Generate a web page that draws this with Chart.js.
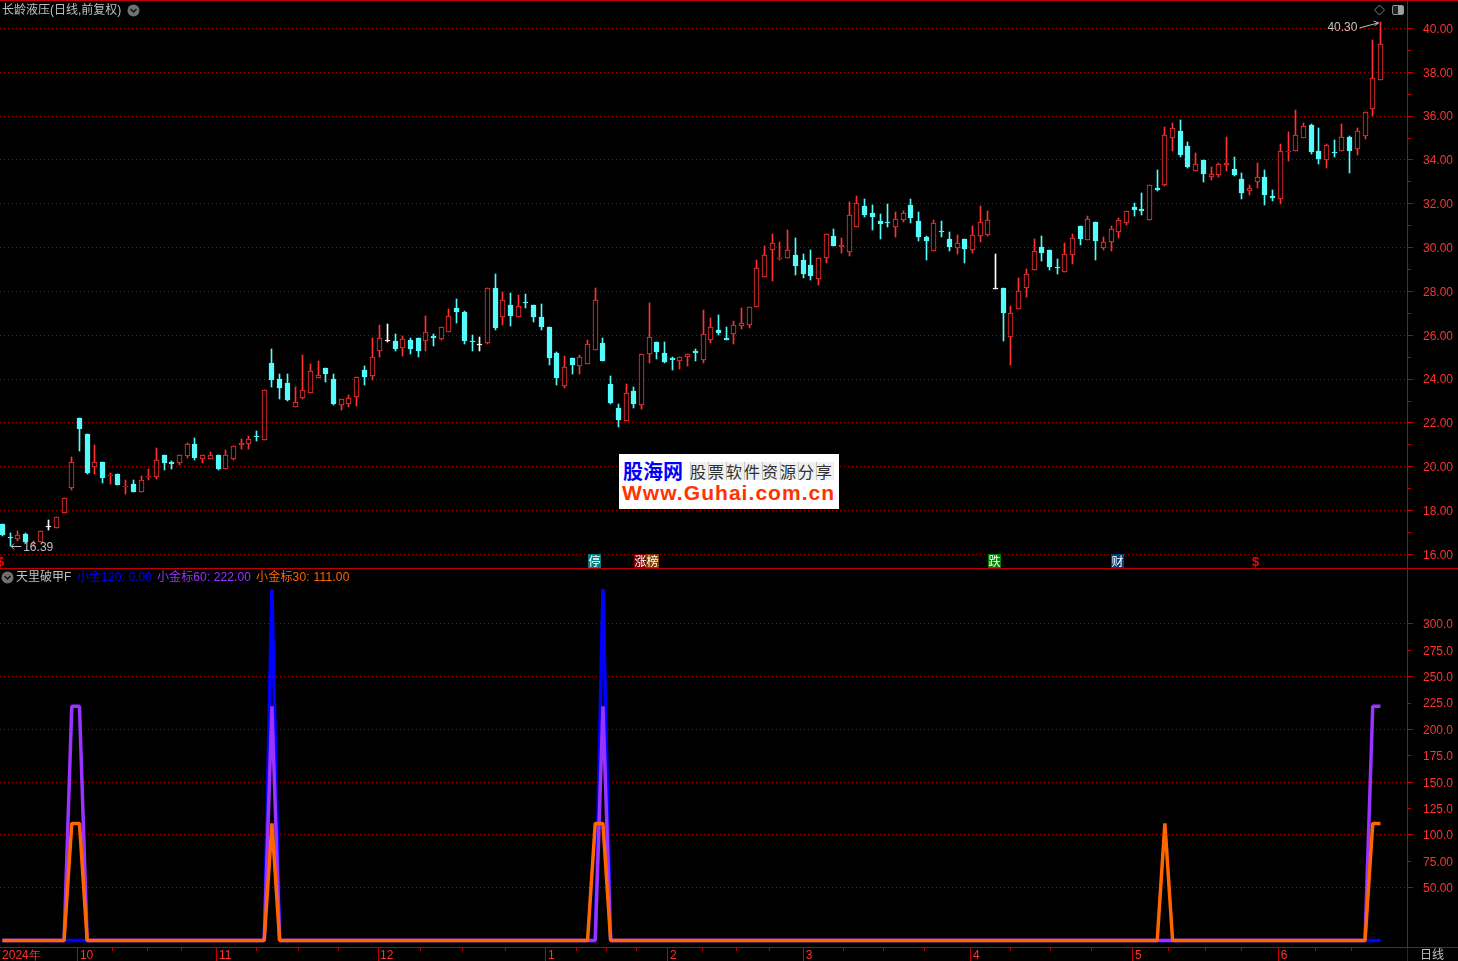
<!DOCTYPE html>
<html>
<head>
<meta charset="utf-8">
<script src="https://cdn.jsdelivr.net/npm/chart.js@4"></script>
<style>
html, body { margin: 0; padding: 0; background: #000; width: 1458px; height: 961px; overflow: hidden; }
canvas { position: absolute; left: 0; }
.t { position: absolute; white-space: nowrap; font: 12px/14px "Liberation Sans", "Noto Sans CJK SC", sans-serif; }
.line { position: absolute; background: #c00000; }
.tag { position: absolute; top: 554px; width: 13px; height: 14px; color: #fff; text-align: center; font: 12px/14px "Noto Sans CJK SC", sans-serif; }
</style>
</head>
<body>
<canvas id="priceChart" width="1458" height="568" style="top:0"></canvas>
<canvas id="indexChart" width="1458" height="392" style="top:569px"></canvas>

<div class="line" style="left:0;top:0;width:1458px;height:1px"></div>
<div class="line" style="left:0;top:568px;width:1458px;height:1px"></div>
<div class="line" style="left:1407px;top:947px;width:51px;height:1px"></div>
<div class="line" style="left:1407px;top:948px;width:1px;height:13px;background:#800000"></div>

<div class="t" style="left:2px;top:3px;color:#c0c0c0">长龄液压(日线,前复权)</div>
<svg style="position:absolute;left:127px;top:4px" width="13" height="13"><circle cx="6.5" cy="6.5" r="6" fill="#707070"/><path d="M3.5 5 L6.5 8 L9.5 5" stroke="#111" stroke-width="1.5" fill="none"/></svg>
<svg style="position:absolute;left:1373px;top:4px" width="32" height="13"><path d="M6.5 1 L11.5 6 L6.5 11 L1.5 6 Z" stroke="#808080" fill="none"/><rect x="19.5" y="1.5" width="11" height="9" rx="1.5" stroke="#909090" fill="#202020"/><rect x="25" y="2" width="5" height="8" fill="#a0a0a0"/></svg>

<div class="tag" style="left:588px;background:#008080">停</div>
<div class="tag" style="left:634px;background:#800000">涨</div>
<div class="tag" style="left:646px;background:#804000">榜</div>
<div class="tag" style="left:988px;background:#008000">跌</div>
<div class="tag" style="left:1111px;background:#004080">财</div>
<div class="t" style="left:1252px;top:555px;color:#ff0000;font-weight:bold;font-size:13px">$</div>
<div class="t" style="left:-3px;top:555px;color:#ff0000;font-weight:bold;font-size:13px">$</div>

<div style="position:absolute;left:619px;top:454px;width:220px;height:55px;background:#fff"></div>
<div class="t" style="left:623px;top:459px;color:#0000ff;font:bold 20px/24px 'Noto Sans CJK SC'">股海网</div>
<div class="t" style="left:690px;top:462px;height:18px;width:144px;color:#303030;font:16px/18px 'Noto Sans CJK SC';letter-spacing:2px;background:repeating-linear-gradient(90deg,#c8c8c8 0 1px,#f0f0f0 1px 18px)">股票软件资源分享</div>
<div class="t" style="left:622px;top:481px;color:#ff3300;font:bold 21px/24px 'Liberation Sans';letter-spacing:1.05px">Www.Guhai.com.cn</div>

<svg style="position:absolute;left:1px;top:571px" width="13" height="13"><circle cx="6.5" cy="6.5" r="6" fill="#707070"/><path d="M3.5 5 L6.5 8 L9.5 5" stroke="#111" stroke-width="1.5" fill="none"/></svg>
<div class="t" style="left:16px;top:570px;color:#c0c0c0">天里破甲F</div>
<div class="t" style="left:77px;top:570px;color:#0000ff;letter-spacing:.1px">小金120: 0.00</div>
<div class="t" style="left:157px;top:570px;color:#9933ff;letter-spacing:.1px">小金标60: 222.00</div>
<div class="t" style="left:256px;top:570px;color:#ff6600;letter-spacing:.2px">小金标30: 111.00</div>
<div class="t" style="left:1420px;top:948px;color:#c0c0c0">日线</div>

<script>
const opens = [
  17.39,16.77,16.70,16.92,16.50,16.56,17.24,17.21,17.90,19.04,
  22.25,21.49,20.00,20.21,19.57,19.67,19.06,19.21,18.86,19.54,
  19.54,20.56,20.21,20.17,20.50,21.03,20.37,20.37,20.56,19.91,
  20.35,21.00,21.03,21.40,21.23,24.73,24.00,23.82,22.74,23.14,
  23.38,24.06,24.50,24.00,22.84,22.87,23.19,24.41,24.15,25.29,
  25.72,25.73,25.43,25.78,25.87,25.73,25.96,25.82,26.17,27.24,
  27.06,25.73,25.58,25.64,28.18,26.84,27.38,26.84,27.51,27.38,
  26.83,26.37,25.18,23.69,24.96,24.60,24.70,25.34,25.64,23.77,
  22.67,22.08,23.45,22.82,25.14,25.69,25.18,24.96,24.83,25.02,
  25.29,24.86,25.79,26.23,25.87,26.06,26.43,26.48,27.30,28.67,
  29.90,29.49,29.53,29.65,29.43,29.20,28.57,29.53,30.52,30.02,
  29.81,30.95,31.89,31.57,31.21,31.16,30.95,31.25,31.94,31.21,
  30.48,29.85,30.75,30.38,29.97,30.38,29.90,30.54,30.57,28.13,
  28.15,25.93,27.21,28.16,28.99,30.02,29.88,29.11,28.89,29.67,
  30.98,30.35,31.16,29.97,30.26,30.72,31.12,31.85,31.75,31.27,
  32.70,32.85,34.99,35.31,34.63,33.49,33.99,33.21,33.31,33.76,
  33.58,33.12,32.59,33.00,33.21,32.35,32.21,34.37,34.42,35.01,
  35.59,34.40,33.99,34.35,34.40,35.04,34.51,35.10,36.33,37.67
];
const highs = [
  17.39,16.97,17.06,16.97,16.62,17.09,17.56,17.73,18.60,20.44,
  22.25,21.49,20.99,20.21,19.70,19.67,19.39,19.39,19.57,19.89,
  20.85,20.56,20.26,20.52,21.07,21.31,20.56,20.67,20.56,20.76,
  20.93,21.26,21.39,21.63,23.49,25.37,24.23,24.23,23.64,25.10,
  24.69,24.82,24.50,24.23,23.11,23.27,24.12,24.59,25.87,26.46,
  26.51,26.05,25.96,25.87,25.87,26.87,26.05,26.40,27.18,27.65,
  27.10,26.00,25.91,28.18,28.79,27.97,27.92,27.83,27.88,27.38,
  27.42,26.37,25.23,25.05,24.96,25.09,25.78,28.15,25.87,24.13,
  22.85,23.77,23.63,25.17,27.47,25.69,25.69,25.00,25.03,25.17,
  25.37,27.14,26.78,26.92,26.37,26.64,27.24,27.27,29.43,30.07,
  30.61,30.25,30.79,30.43,29.70,29.88,29.55,30.64,30.84,30.43,
  32.07,32.35,32.21,31.94,31.52,31.98,31.62,31.66,32.21,31.62,
  30.52,31.25,31.21,30.70,30.57,30.38,31.00,31.89,31.66,29.70,
  28.15,27.33,28.60,29.02,30.38,30.52,29.88,29.47,30.20,30.61,
  30.98,31.43,31.16,30.48,30.98,31.34,31.69,32.03,32.48,32.88,
  33.53,35.50,35.68,35.81,34.81,34.31,33.99,33.67,33.85,35.04,
  34.13,33.40,32.85,33.85,33.53,32.62,34.72,35.27,36.27,35.68,
  35.63,35.45,34.75,34.90,35.63,35.08,35.45,36.21,39.47,40.30
];
const lows = [
  16.84,16.39,16.60,16.53,16.42,16.56,17.11,17.21,17.90,18.93,
  20.73,19.68,19.66,19.27,19.22,19.16,18.77,18.84,18.86,19.39,
  19.45,19.85,19.89,20.09,20.40,20.30,20.17,20.37,19.85,19.91,
  20.30,20.81,20.81,21.17,21.23,23.64,23.09,23.00,22.74,23.09,
  23.38,24.06,23.87,22.83,22.58,22.72,22.76,23.72,23.95,25.00,
  25.69,25.27,25.05,25.14,25.00,25.27,25.50,25.78,26.14,26.55,
  25.59,25.27,25.27,25.59,26.23,26.46,26.42,26.84,27.24,26.60,
  26.23,24.64,23.72,23.59,24.22,24.22,24.70,25.34,24.82,22.85,
  21.80,22.08,22.67,22.63,24.73,24.91,24.73,24.41,24.45,24.59,
  24.82,24.73,25.64,26.00,25.78,25.59,26.28,26.32,27.30,28.67,
  28.47,29.43,29.53,28.74,28.60,28.51,28.29,29.29,30.06,29.75,
  29.61,30.95,31.39,30.79,30.38,30.93,30.48,31.16,31.11,30.29,
  29.43,29.85,30.48,29.84,29.70,29.29,29.75,30.25,30.52,28.13,
  25.73,24.64,27.21,27.74,28.99,29.38,28.99,28.79,28.89,29.24,
  30.11,30.35,29.43,29.88,29.84,30.43,31.02,31.43,31.48,31.27,
  32.57,32.82,34.40,34.13,33.62,33.49,32.99,33.08,33.21,33.49,
  33.26,32.21,32.39,32.71,31.94,32.12,32.01,33.94,34.42,35.01,
  34.26,33.81,33.62,34.13,34.40,33.40,34.22,34.95,36.00,37.67
];
const closes = [
  16.88,16.73,16.88,16.56,16.54,17.09,17.24,17.73,18.60,20.20,
  21.73,19.71,20.20,19.48,19.62,19.16,19.12,18.87,19.38,19.57,
  20.33,20.17,20.14,20.52,21.02,20.40,20.56,20.56,19.89,20.52,
  20.93,21.08,21.29,21.35,23.49,23.96,23.59,23.04,22.94,23.49,
  24.35,24.17,24.23,22.86,23.11,23.16,24.12,24.09,24.99,25.90,
  25.72,25.37,25.85,25.37,25.27,26.13,25.87,26.40,26.86,27.06,
  25.73,25.70,25.58,28.18,26.32,27.59,26.87,27.36,27.47,26.83,
  26.37,24.96,24.04,24.57,24.64,25.03,25.62,27.59,24.82,22.90,
  22.12,23.39,22.85,25.17,25.94,25.23,24.77,24.86,25.03,25.17,
  25.18,26.08,26.40,26.10,25.78,26.49,26.58,27.27,29.09,29.68,
  30.19,29.55,29.91,29.15,28.79,28.70,29.55,30.64,30.06,30.11,
  31.51,32.06,31.48,31.39,31.07,31.11,31.33,31.60,31.34,30.48,
  30.29,31.14,30.70,30.02,30.19,29.93,30.60,31.19,31.28,28.13,
  27.01,27.04,28.04,28.82,29.87,29.75,29.12,29.06,29.69,30.42,
  30.39,31.33,30.29,30.28,30.83,31.28,31.69,31.71,31.66,32.88,
  32.64,35.12,35.48,34.22,33.67,33.81,33.35,33.35,33.81,33.85,
  33.31,32.48,32.70,33.24,32.39,32.26,34.39,34.43,35.16,35.53,
  34.35,34.04,34.70,34.31,35.07,34.40,35.34,36.21,37.76,39.27
];

const jin120 = [
  0,0,0,0,0,0,0,0,0,0,0,0,0,0,0,0,0,0,0,0,
  0,0,0,0,0,0,0,0,0,0,0,0,0,0,0,333,0,0,0,0,
  0,0,0,0,0,0,0,0,0,0,0,0,0,0,0,0,0,0,0,0,
  0,0,0,0,0,0,0,0,0,0,0,0,0,0,0,0,0,0,333,0,
  0,0,0,0,0,0,0,0,0,0,0,0,0,0,0,0,0,0,0,0,
  0,0,0,0,0,0,0,0,0,0,0,0,0,0,0,0,0,0,0,0,
  0,0,0,0,0,0,0,0,0,0,0,0,0,0,0,0,0,0,0,0,
  0,0,0,0,0,0,0,0,0,0,0,0,0,0,0,0,0,0,0,0,
  0,0,0,0,0,0,0,0,0,0,0,0,0,0,0,0,0,0,0,0
];
const jinBiao60 = [
  0,0,0,0,0,0,0,0,0,222,222,0,0,0,0,0,0,0,0,0,
  0,0,0,0,0,0,0,0,0,0,0,0,0,0,0,222,0,0,0,0,
  0,0,0,0,0,0,0,0,0,0,0,0,0,0,0,0,0,0,0,0,
  0,0,0,0,0,0,0,0,0,0,0,0,0,0,0,0,0,0,222,0,
  0,0,0,0,0,0,0,0,0,0,0,0,0,0,0,0,0,0,0,0,
  0,0,0,0,0,0,0,0,0,0,0,0,0,0,0,0,0,0,0,0,
  0,0,0,0,0,0,0,0,0,0,0,0,0,0,0,0,0,0,0,0,
  0,0,0,0,0,0,0,0,0,0,0,0,0,0,0,0,0,0,0,0,
  0,0,0,0,0,0,0,0,0,0,0,0,0,0,0,0,0,0,222,222
];
const jinBiao30 = [
  0,0,0,0,0,0,0,0,0,111,111,0,0,0,0,0,0,0,0,0,
  0,0,0,0,0,0,0,0,0,0,0,0,0,0,0,111,0,0,0,0,
  0,0,0,0,0,0,0,0,0,0,0,0,0,0,0,0,0,0,0,0,
  0,0,0,0,0,0,0,0,0,0,0,0,0,0,0,0,0,111,111,0,
  0,0,0,0,0,0,0,0,0,0,0,0,0,0,0,0,0,0,0,0,
  0,0,0,0,0,0,0,0,0,0,0,0,0,0,0,0,0,0,0,0,
  0,0,0,0,0,0,0,0,0,0,0,0,0,0,0,0,0,0,0,0,
  0,0,0,0,0,0,0,0,0,0,0,111,0,0,0,0,0,0,0,0,
  0,0,0,0,0,0,0,0,0,0,0,0,0,0,0,0,0,0,111,111
];

const priceTicks = [16,18,20,22,24,26,28,30,32,34,36,38,40];
const priceMinorTicks = [17,19,21,23,25,27,29,31,33,35,37,39];
const indexTicks = [50,100,150,200,250,300];
const indexTickLabels = ['50.00','100.0','150.0','200.0','250.0','300.0'];
const indexMinorTicks = [75,125,175,225,275];
const indexMinorLabels = ['75.00','125.0','175.0','225.0','275.0'];
const monthTicks = [-0.32,9.8,27.86,48.78,70.6,86.45,104.1,125.8,146.85,165.8];
const monthLabels = ['2024年','10','11','12','1','2','3','4','5','6'];
const weekTicks = [14.35,18.9,23.3,33.06,38.4,43.6,54.36,59.7,65.3,74.6,78.5,82.4,90.9,95.3,99.7,109.3,114.5,119.8,131,136.2,141.5,151.5,156.3,161,170.5,175.2];

const RED = '#ff3232', CYAN = '#54fcfc', FRAME = '#c00000', GRID = '#a80000';
const X_MIN = -0.325, X_MAX = 182.45;
const NUM_FONT = { family: 'Liberation Sans', size: 12 };

const candleColor = i => closes[i] > opens[i] ? RED : closes[i] < opens[i] ? CYAN : '#ffffff';
const isMinor = (list, v) => list.includes(v);
const noPadding = axis => {
  axis.paddingTop = axis.paddingBottom = axis.paddingLeft = axis.paddingRight = 0;
};

// snap bars to whole pixels so bodies look crisp like the original
const snapBars = {
  id: 'snapBars',
  afterDatasetsUpdate(chart) {
    chart.getSortedVisibleDatasetMetas().forEach(meta => {
      meta.data.forEach(el => {
        el.x = Math.floor(el.x) + 0.5;
        el.y = Math.round(el.y);
        el.base = Math.round(el.base);
        if (el.base === el.y) el.base = el.y + 1;
      });
    });
  }
};

// 40.30 / 16.39 notes with their little arrows
const extremeNotes = {
  id: 'extremeNotes',
  afterDatasetsDraw(chart) {
    const { ctx, scales } = chart;
    const hiX = scales.x.getPixelForValue(179), hiY = scales.y.getPixelForValue(40.30);
    const loX = scales.x.getPixelForValue(1), loY = Math.round(scales.y.getPixelForValue(16.39)) + 0.5;
    ctx.save();
    ctx.fillStyle = ctx.strokeStyle = '#c0c0c0';
    ctx.font = '12px "Liberation Sans"';
    ctx.textBaseline = 'middle';
    ctx.textAlign = 'right';
    ctx.fillText('40.30', hiX - 23, hiY + 6);
    ctx.textAlign = 'left';
    ctx.fillText('16.39', loX + 13, loY + 1);
    ctx.lineWidth = 1;
    ctx.beginPath();
    ctx.moveTo(hiX - 21, hiY + 6);
    ctx.lineTo(hiX - 2, hiY + 1);
    ctx.moveTo(hiX - 7, hiY - 1);
    ctx.lineTo(hiX - 2, hiY + 1);
    ctx.lineTo(hiX - 6, hiY + 4);
    ctx.moveTo(loX + 11, loY);
    ctx.lineTo(loX + 1, loY);
    ctx.moveTo(loX + 4, loY - 3);
    ctx.lineTo(loX + 1, loY);
    ctx.lineTo(loX + 4, loY + 3);
    ctx.stroke();
    ctx.restore();
  }
};

new Chart(document.getElementById('priceChart'), {
  type: 'bar',
  data: {
    datasets: [{
      data: opens.map((o, i) => ({ x: i, y: [o, closes[i]] })),
      backgroundColor: opens.map((o, i) => closes[i] > o ? '#000000' : candleColor(i)),
      borderColor: opens.map((o, i) => candleColor(i)),
      borderWidth: 1,
      borderSkipped: false,
      barThickness: 5,
      minBarLength: 1,
      grouped: false,
      order: 1
    }, {
      data: highs.map((h, i) => ({ x: i, y: [lows[i], h] })),
      backgroundColor: opens.map((o, i) => candleColor(i)),
      barThickness: 1,
      grouped: false,
      order: 2
    }]
  },
  options: {
    responsive: false,
    animation: false,
    devicePixelRatio: 1,
    layout: { padding: 0 },
    plugins: { legend: { display: false }, title: { display: false }, tooltip: { enabled: false } },
    scales: {
      x: { type: 'linear', display: false, min: X_MIN, max: X_MAX, offset: false, grid: { offset: false } },
      y: {
        position: 'right',
        min: 15.384,
        max: 41.30,
        afterFit: axis => { axis.width = 51; noPadding(axis); },
        afterBuildTicks: axis => {
          axis.ticks = priceTicks.concat(priceMinorTicks).sort((a, b) => a - b).map(v => ({ value: v }));
        },
        border: { color: FRAME, width: 1, dash: [1, 3] },
        grid: {
          color: c => isMinor(priceMinorTicks, c.tick.value) ? 'transparent' : GRID,
          tickColor: FRAME,
          tickLength: 6,
          tickBorderDash: c => isMinor(priceMinorTicks, c.tick.value) ? [3, 20] : []
        },
        ticks: {
          color: RED,
          font: NUM_FONT,
          padding: 10,
          labelOffset: 1,
          autoSkip: false,
          callback: v => isMinor(priceMinorTicks, v) ? '' : v.toFixed(2)
        }
      }
    }
  },
  plugins: [snapBars, extremeNotes]
});

const lineSet = (values, color, order) => ({
  data: values.map((v, i) => ({ x: i, y: v })),
  borderColor: color,
  borderWidth: 3.5,
  borderJoinStyle: 'bevel',
  pointRadius: 0,
  tension: 0,
  order: order
});

new Chart(document.getElementById('indexChart'), {
  type: 'line',
  data: {
    datasets: [
      lineSet(jin120, '#0000ff', 3),
      lineSet(jinBiao60, '#9933ff', 2),
      lineSet(jinBiao30, '#ff6600', 1)
    ]
  },
  options: {
    responsive: false,
    animation: false,
    devicePixelRatio: 1,
    layout: { padding: 0 },
    plugins: { legend: { display: false }, title: { display: false }, tooltip: { enabled: false } },
    scales: {
      x: {
        type: 'linear',
        min: X_MIN,
        max: X_MAX,
        afterFit: axis => { axis.height = 14; noPadding(axis); },
        afterBuildTicks: axis => {
          axis.ticks = monthTicks.concat(weekTicks).sort((a, b) => a - b).map(v => ({ value: v }));
        },
        border: { color: FRAME, width: 1 },
        grid: {
          drawOnChartArea: false,
          tickColor: c => c.tick.value === monthTicks[0] ? 'transparent' : FRAME,
          tickLength: 14,
          tickBorderDash: c => isMinor(weekTicks, c.tick.value) ? [3, 20] : []
        },
        ticks: {
          color: RED,
          font: NUM_FONT,
          align: 'start',
          labelOffset: 2,
          padding: -13,
          maxRotation: 0,
          autoSkip: false,
          callback: v => {
            const k = monthTicks.indexOf(v);
            return k >= 0 ? monthLabels[k] : '';
          }
        }
      },
      y: {
        position: 'right',
        min: -6.16,
        max: 352.1,
        afterFit: axis => { axis.width = 51; noPadding(axis); },
        afterBuildTicks: axis => {
          axis.ticks = indexTicks.concat(indexMinorTicks).sort((a, b) => a - b).map(v => ({ value: v }));
        },
        border: { color: FRAME, width: 1, dash: [1, 3] },
        grid: {
          color: c => isMinor(indexMinorTicks, c.tick.value) ? 'transparent' : GRID,
          tickColor: FRAME,
          tickLength: 6,
          tickBorderDash: c => isMinor(indexMinorTicks, c.tick.value) ? [3, 20] : []
        },
        ticks: {
          color: RED,
          font: NUM_FONT,
          padding: 10,
          labelOffset: 1,
          autoSkip: false,
          callback: v => {
            const k = indexMinorTicks.indexOf(v);
            return k >= 0 ? indexMinorLabels[k] : indexTickLabels[indexTicks.indexOf(v)];
          }
        }
      }
    }
  }
});
</script>
</body>
</html>
